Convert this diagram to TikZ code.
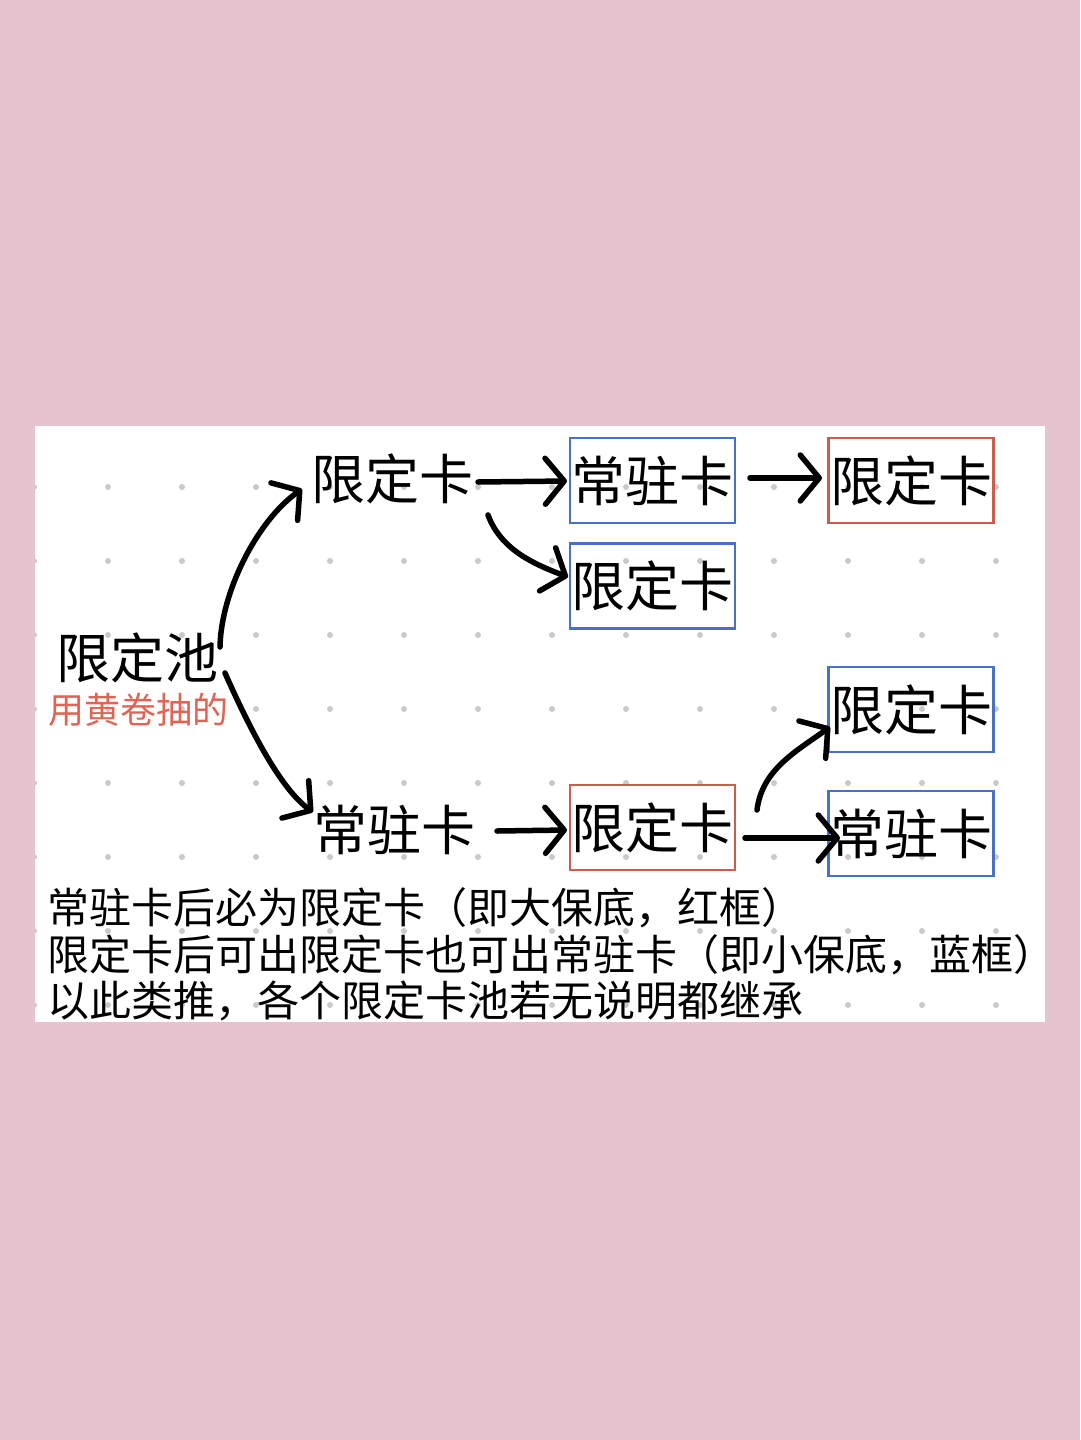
\documentclass[tikz,border=0pt]{standalone}
\usepackage{fontspec}
\setmainfont{Noto Sans CJK SC}
\usetikzlibrary{arrows.meta,calc}
\definecolor{bgpink}{HTML}{E5C4D0}
\definecolor{boxblue}{HTML}{4472C4}
\definecolor{boxred}{HTML}{CC5D4E}
\definecolor{subred}{HTML}{DF6454}
\definecolor{dotgrey}{HTML}{C9C9C9}
\begin{document}
\begin{tikzpicture}[x=1pt,y=-1pt,
  big/.style={font=\fontsize{54}{60}\selectfont, inner sep=0pt},
  card/.style={big, draw, line width=2.5pt, minimum width=165pt, minimum height=85pt},
  bluecard/.style={card, draw=boxblue},
  redcard/.style={card, draw=boxred},
  note/.style={font=\fontsize{42}{47}\selectfont, inner sep=0pt, anchor=west},
  arr/.style={line width=5.5pt, line cap=round, line join=round, -{Straight Barb[round,length=19pt,width=46pt]}}
]
\fill[bgpink] (0,0) rectangle (1080,1440);
\fill[white] (35,426) rectangle (1045,1022);
\begin{scope}
\clip (35,426) rectangle (1045,1022);
\foreach \i in {0,...,13} \foreach \j in {0,...,7} \fill[dotgrey] (34+74*\i, 487+74*\j) circle[radius=3pt];
\end{scope}

\node[big] (pool) at (137,658) {限定池};
\node[inner sep=0pt, text=subred, font=\fontsize{36}{40}\selectfont] (sub) at (138,710) {用黄卷抽的};
\node[big] (l1) at (392,479) {限定卡};
\node[bluecard] (r1) at (652.5,480.5) {常驻卡};
\node[redcard] (l2) at (911,480.5) {限定卡};
\node[bluecard] (l3) at (652.5,586) {限定卡};
\node[big] (r2) at (394,830) {常驻卡};
\node[redcard] (l4) at (652.5,827.5) {限定卡};
\node[bluecard] (l5) at (911,709.5) {限定卡};
\node[bluecard] (r3) at (911,833.5) {常驻卡};

\node[note] (n1) at (47,908) {常驻卡后必为限定卡（即大保底，红框）};
\node[note] (n2) at (47,955) {限定卡后可出限定卡也可出常驻卡（即小保底，蓝框）};
\node[note] (n3) at (47,1001) {以此类推，各个限定卡池若无说明都继承};

\draw[arr] ($(pool)+(83,-11)$) .. controls +(1,-55) and +(-45,32) .. ($(l1)+(-90,10)$);
\draw[arr] ($(pool)+(88,15)$) .. controls +(20,45) and +(-35,-25) .. ($(r2)+(-81,-18)$);
\draw[arr] ($(l1)+(86,3)$) -- ($(r1)+(-85.5,0.5)$);
\draw[arr] ($(l1)+(96,36)$) .. controls +(12,32) and +(-40,-15) .. ($(l3)+(-84.5,-9)$);
\draw[arr] ($(r1)+(97.5,-2.5)$) -- ($(l2)+(-89,-2.5)$);
\draw[arr] ($(r2)+(103,1)$) -- ($(l4)+(-85.5,2.5)$);
\draw[arr] ($(l4)+(104.5,-17.5)$) .. controls +(5,-40) and +(-35,25) .. ($(l5)+(-81,17.5)$);
\draw[arr] ($(l4)+(92.5,10.5)$) -- ($(r3)+(-71,4.5)$);
\end{tikzpicture}
\end{document}
